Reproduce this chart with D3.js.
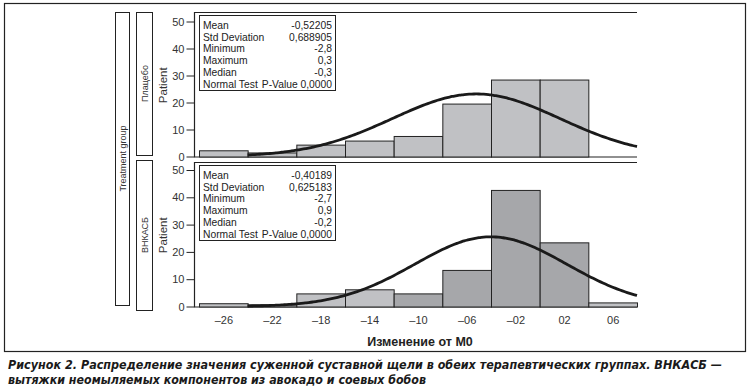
<!DOCTYPE html>
<html>
<head>
<meta charset="utf-8">
<script src="https://cdn.jsdelivr.net/npm/d3@7"></script>
<style>
  body { margin: 0; background: #fff; }
  svg { display: block; font-family: "Liberation Sans", Arial, sans-serif; }
</style>
</head>
<body>
<svg id="chart" width="753" height="391"></svg>
<script>
// bins of the histogram (Изменение от M0)
var binEdges = [-2.8, -2.4, -2.0, -1.6, -1.2, -0.8, -0.4, 0.0, 0.4, 0.8];
var tickValues = [-2.6, -2.2, -1.8, -1.4, -1.0, -0.6, -0.2, 0.2, 0.6];
var tickLabels = ["\u201326", "\u201322", "\u201318", "\u201314", "\u201310", "\u201306", "\u201302", "02", "06"];
var yTicks = [0, 10, 20, 30, 40, 50];

// percent of patients per bin
var placeboPct = [2.3, 1.5, 4.4, 5.9, 7.6, 19.6, 28.5, 28.5, 0];
var avsuPct = [1.2, 0.8, 4.8, 6.3, 4.8, 13.4, 42.7, 23.5, 1.5];
var placeboShade = ["l", "l", "l", "l", "l", "l", "l", "l", "l"];
var avsuShade = ["l", "d", "l", "l", "d", "d", "d", "d", "l"];

// summary boxes
var statNames = ["Mean", "Std Deviation", "Minimum", "Maximum", "Median", "Normal Test"];
var placeboStats = ["-0,52205", "0,688905", "-2,8", "0,3", "-0,3", "P-Value 0,0000"];
var avsuStats = ["-0,40189", "0,625183", "-2,7", "0,9", "-0,2", "P-Value 0,0000"];
var placeboMean = -0.52205, placeboSd = 0.688905;
var avsuMean = -0.40189, avsuSd = 0.625183;

var svg = d3.select("#chart");
var ink = "#222";
var fills = { l: "#c0c1c4", d: "#a6a7aa" };

// outer frame
svg.append("rect").attr("x", 4.5).attr("y", 3.5).attr("width", 741).attr("height", 348)
  .attr("fill", "none").attr("stroke", ink).attr("stroke-width", 1.2);

var x = d3.scaleLinear().domain([-2.8, 0.8]).range([199, 637]);
var left = 194, right = 637;

// strips
function strip(x0, y0, w, h, label) {
  svg.append("rect").attr("x", x0 + 0.5).attr("y", y0 + 0.5).attr("width", w).attr("height", h)
    .attr("fill", "none").attr("stroke", ink).attr("stroke-width", 1);
  svg.append("text")
    .attr("transform", "translate(" + (x0 + w / 2 + 4) + "," + (y0 + h / 2) + ") rotate(-90)")
    .attr("text-anchor", "middle").attr("font-size", 9).attr("fill", "#333").text(label);
}
strip(115, 12, 14, 293, "Treatment group");
strip(136, 12, 16, 143, "Плацебо");
strip(136, 160, 16, 150, "ВНКАСБ");

function panel(yTop, y0, y50, pct, shade, names, vals, mean, sd) {
  var y = d3.scaleLinear().domain([0, 50]).range([y0, y50]);
  var g = svg.append("g");

  // frame: top, left, baseline
  g.append("path")
    .attr("d", "M" + right + "," + (yTop + 0.5) + "H" + (left + 0.5) + "V" + (y0 + 0.5) + "H" + right)
    .attr("fill", "none").attr("stroke", ink).attr("stroke-width", 1.2);

  // y axis
  var ax = g.append("g").attr("transform", "translate(" + (left + 0.5) + ",0)")
    .call(d3.axisLeft(y).tickValues(yTicks).tickSize(8).tickPadding(2));
  ax.select(".domain").remove();
  ax.selectAll("line").attr("stroke", ink);
  ax.selectAll("text").attr("font-size", 11).attr("fill", "#333").attr("font-family", "Liberation Sans, Arial, sans-serif");

  g.append("text")
    .attr("transform", "translate(167," + ((y0 + yTop) / 2 + 1) + ") rotate(-90)")
    .attr("text-anchor", "middle").attr("font-size", 11.5).attr("fill", "#333").text("Patient");

  // bars
  pct.forEach(function(d, i) {
    if (d <= 0) return;
    g.append("rect")
      .attr("x", x(binEdges[i]) + 0.5)
      .attr("y", y(d) + 0.5)
      .attr("width", x(binEdges[i + 1]) - x(binEdges[i]))
      .attr("height", y(0) - y(d))
      .attr("fill", fills[shade[i]])
      .attr("stroke", ink).attr("stroke-width", 1);
  });

  // fitted normal curve (percent per 0.4 bin)
  var bw = 0.4;
  var pts = d3.range(-2.4, 0.801, 0.02).map(function(v) {
    var z = (v - mean) / sd;
    return [v, 100 * bw * Math.exp(-0.5 * z * z) / (sd * Math.sqrt(2 * Math.PI))];
  });
  g.append("path").datum(pts)
    .attr("d", d3.line().x(function(p) { return x(p[0]); }).y(function(p) { return y(p[1]); }).curve(d3.curveBasis))
    .attr("fill", "none").attr("stroke", "#1a1a1a").attr("stroke-width", 2.8);

  // stats box
  var bx = 199, by = yTop + 3, bwid = 136, bh = 75;
  g.append("rect").attr("x", bx + 0.5).attr("y", by + 0.5).attr("width", bwid).attr("height", bh)
    .attr("fill", "#fff").attr("stroke", ink).attr("stroke-width", 1);
  names.forEach(function(n, i) {
    var ty = by + 14 + i * 11.7;
    g.append("text").attr("x", bx + 4).attr("y", ty)
      .attr("font-size", 10.3).attr("fill", "#222").text(n);
    g.append("text").attr("x", bx + bwid - 3).attr("y", ty).attr("text-anchor", "end")
      .attr("font-size", 10.3).attr("fill", "#222").text(vals[i]);
  });
  return y;
}

panel(12, 156.5, 21.5, placeboPct, placeboShade, statNames, placeboStats, placeboMean, placeboSd);
panel(162, 306.5, 170, avsuPct, avsuShade, statNames, avsuStats, avsuMean, avsuSd);

// x axis labels
var xa = svg.append("g").attr("transform", "translate(0,307)")
  .call(d3.axisBottom(x).tickValues(tickValues).tickSize(0).tickPadding(9)
    .tickFormat(function(d, i) { return tickLabels[i]; }));
xa.select(".domain").remove();
xa.selectAll("text").attr("font-size", 11).attr("fill", "#333").attr("font-family", "Liberation Sans, Arial, sans-serif");

svg.append("text").attr("x", 420).attr("y", 346).attr("text-anchor", "middle")
  .attr("font-size", 12.5).attr("font-weight", "bold").attr("fill", "#222").text("Изменение от M0");

// caption
var cap = svg.append("g").attr("font-family", "'Liberation Sans Narrow', 'DejaVu Sans Condensed', 'Liberation Sans', sans-serif")
  .attr("font-weight", "bold").attr("font-style", "italic").attr("font-size", 13).attr("fill", "#1a1a1a");
cap.append("text").attr("x", 8).attr("y", 369)
  .attr("textLength", 714).attr("lengthAdjust", "spacingAndGlyphs")
  .text("Рисунок 2. Распределение значения суженной суставной щели в обеих терапевтических группах. ВНКАСБ —");
cap.append("text").attr("x", 8).attr("y", 384)
  .attr("textLength", 418).attr("lengthAdjust", "spacingAndGlyphs")
  .text("вытяжки неомыляемых компонентов из авокадо и соевых бобов");
</script>
</body>
</html>
